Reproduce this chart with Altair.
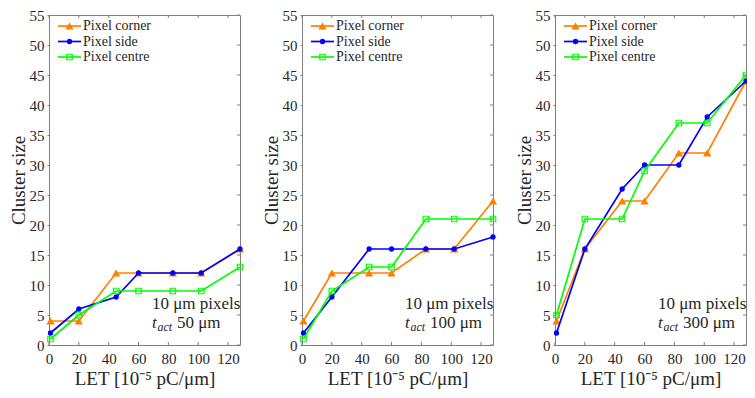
import altair as alt
import pandas as pd

series = ["Pixel corner", "Pixel side", "Pixel centre"]
colors = ["#FF8000", "#0000FF", "#00FF00"]
shapes = ["triangle-up", "circle", "square"]

x_let = [1, 20, 45, 60, 83, 102, 128]
x_ticks = [0, 20, 40, 60, 80, 100, 120]
y_ticks = [0, 5, 10, 15, 20, 25, 30, 35, 40, 45, 50, 55]

t_act = ["50", "100", "300"]

p1_corner = [4, 4, 12, 12, 12, 12, 16]
p1_side = [2, 6, 8, 12, 12, 12, 16]
p1_centre = [1, 5, 9, 9, 9, 9, 13]

p2_corner = [4, 12, 12, 12, 16, 16, 24]
p2_side = [2, 8, 16, 16, 16, 16, 18]
p2_centre = [1, 9, 13, 13, 21, 21, 21]

p3_corner = [4, 16, 24, 24, 32, 32, 44]
p3_side = [2, 16, 26, 30, 30, 38, 44]
p3_centre = [5, 21, 21, 29, 37, 37, 45]

panel_values = [
    [p1_corner, p1_side, p1_centre],
    [p2_corner, p2_side, p2_centre],
    [p3_corner, p3_side, p3_centre],
]

W = 191
H = 330
SP = 62
FONT = "Liberation Serif"
TXT = "#262626"
AX = "#7f7f7f"

xscale = alt.Scale(domain=[0, 128], nice=False, zero=False)
yscale = alt.Scale(domain=[0, 55], nice=False, zero=False)
xaxis = alt.Axis(values=x_ticks, format="d", ticks=False,
                 labelPadding=6, labelFlush=False, labelOverlap=False,
                 title="LET [10⁻⁵ pC/μm]", titlePadding=3)
yaxis = alt.Axis(values=y_ticks, format="d", tickSize=2,
                 labelPadding=3, labelFlush=False, labelOverlap=False,
                 title="Cluster size", titlePadding=1)


def X():
    return alt.X("x:Q", scale=xscale, axis=xaxis)


def Y():
    return alt.Y("y:Q", scale=yscale, axis=yaxis)


legend_y = [11, 26.5, 42]


def marker(ch, shp, col):
    if shp == "square":
        return ch.mark_point(shape=shp, filled=False, size=30, color=col,
                             strokeWidth=1.2, opacity=1, clip=False)
    if shp == "circle":
        return ch.mark_point(shape=shp, filled=True, size=28, color=col, opacity=1, clip=False)
    return ch.mark_point(shape=shp, filled=True, size=70, color=col, opacity=1, clip=False)


def panel(vals, tact):
    layers = []
    for i, (name, col, shp) in enumerate(zip(series, colors, shapes)):
        df = pd.DataFrame({"x": x_let, "y": vals[i]})
        base = alt.Chart(df).encode(x=X(), y=Y())
        layers.append(base.mark_line(color=col, strokeWidth=1.7, clip=False))
        layers.append(marker(base, shp, col))

    # inward ticks: top, bottom, right
    xt = pd.DataFrame({"x": x_ticks})
    yt = pd.DataFrame({"y": y_ticks})
    layers.append(alt.Chart(xt).mark_rule(color=AX, strokeWidth=1).encode(
        x=X(), y=alt.value(H), y2=alt.value(H - 3)))
    layers.append(alt.Chart(xt).mark_rule(color=AX, strokeWidth=1).encode(
        x=X(), y=alt.value(0), y2=alt.value(3)))
    layers.append(alt.Chart(yt).mark_rule(color=AX, strokeWidth=1).encode(
        y=Y(), x=alt.value(W - 3), x2=alt.value(W)))

    # legend
    for i, (name, col, shp) in enumerate(zip(series, colors, shapes)):
        ld = pd.DataFrame({"label": [name]})
        lb = alt.Chart(ld)
        layers.append(lb.mark_rule(color=col, strokeWidth=1.7).encode(
            x=alt.value(9), x2=alt.value(32), y=alt.value(legend_y[i])))
        layers.append(marker(lb, shp, col).encode(x=alt.value(20.5), y=alt.value(legend_y[i])))
        layers.append(lb.mark_text(font=FONT, fontSize=14, color=TXT, align="left",
                                   baseline="middle").encode(
            x=alt.value(34), y=alt.value(legend_y[i]), text="label:N"))

    # annotation
    ann1 = pd.DataFrame({"t": ["10 μm pixels"]})
    layers.append(alt.Chart(ann1).mark_text(font=FONT, fontSize=17, color=TXT,
                                            align="left", baseline="middle").encode(
        x=alt.value(103), y=alt.value(H - 41), text="t:N"))
    ann2 = pd.DataFrame({"t": ["t"]})
    layers.append(alt.Chart(ann2).mark_text(font=FONT, fontSize=17, color=TXT, fontStyle="italic",
                                            align="left", baseline="middle").encode(
        x=alt.value(103), y=alt.value(H - 22), text="t:N"))
    ann3 = pd.DataFrame({"t": ["act"]})
    layers.append(alt.Chart(ann3).mark_text(font=FONT, fontSize=12, color=TXT, fontStyle="italic",
                                            align="left", baseline="middle").encode(
        x=alt.value(108.5), y=alt.value(H - 18), text="t:N"))
    ann4 = pd.DataFrame({"t": [tact + " μm"]})
    layers.append(alt.Chart(ann4).mark_text(font=FONT, fontSize=17, color=TXT,
                                            align="left", baseline="middle").encode(
        x=alt.value(128), y=alt.value(H - 22), text="t:N"))

    return alt.layer(*layers).properties(width=W, height=H)


chart = alt.hconcat(*[panel(v, t) for v, t in zip(panel_values, t_act)],
                    spacing=SP, bounds="flush").properties(
    autosize=alt.AutoSizeParams(type="none"),
    padding={"left": 41, "top": 7, "right": 698, "bottom": 375}
).configure_view(stroke=AX, strokeWidth=1).configure_axis(
    labelFont=FONT, labelFontSize=15, labelColor=TXT,
    titleFont=FONT, titleFontSize=19, titleFontWeight="normal", titleColor=TXT,
    domain=False, grid=False, tickColor=AX
)

chart.save("out.html", embed_options={"renderer": "svg", "actions": False})
